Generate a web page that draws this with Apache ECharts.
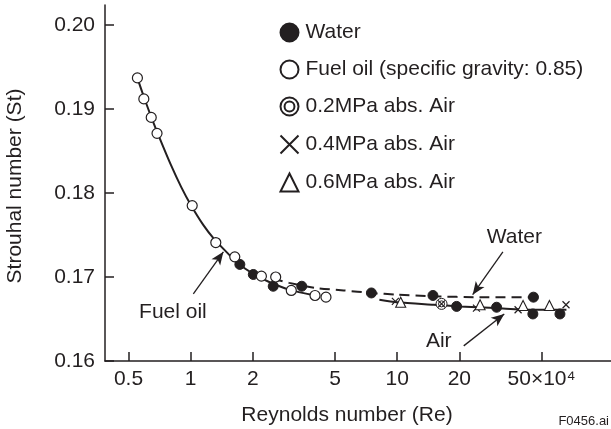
<!DOCTYPE html>
<html>
<head>
<meta charset="utf-8">
<script src="https://cdn.jsdelivr.net/npm/echarts@6/dist/echarts.min.js"></script>
<style>
html, body { margin: 0; padding: 0; background: #fff; }
#chart { width: 611px; height: 429px; }
</style>
</head>
<body>
<div id="chart"></div>
<script>
const ink = '#231f20'
const font = "'Liberation Sans', Arial, Helvetica, sans-serif"

// axis ticks
const xTicks = [0.5, 1, 2, 5, 10, 20, 50]
const yTicks = [0.16, 0.17, 0.18, 0.19, 0.20]

// measured points (Re in 10^4, St)
const waterX = [1.73, 2.01, 2.51, 3.45, 7.5, 14.9, 19.4, 30.3, 45.7, 45.4, 61.4]
const waterY = [0.1715, 0.1703, 0.1689, 0.1689, 0.1681, 0.1678, 0.1665, 0.1664, 0.1676, 0.1656, 0.1656]

const oilX = [0.552, 0.593, 0.644, 0.687, 1.017, 1.323, 1.635, 2.20, 2.58, 3.07, 4.0, 4.52]
const oilY = [0.1937, 0.1912, 0.1890, 0.1871, 0.1785, 0.1741, 0.1724, 0.1701, 0.1700, 0.1684, 0.1678, 0.1676]

const air02X = [16.4]
const air02Y = [0.1668]

const air04X = [9.8, 16.4, 24.2, 38.5, 65.7]
const air04Y = [0.1671, 0.1668, 0.1663, 0.1661, 0.1667]

const air06X = [10.4, 25.2, 40.7, 54.6]
const air06Y = [0.1670, 0.1667, 0.1666, 0.1666]

// fitted curves
const oilCurveX = [0.55, 0.6, 0.65, 0.7, 0.8, 0.9, 1.0, 1.15, 1.3, 1.5, 1.7, 2.0, 2.4, 3.0, 4.0]
const oilCurveY = [0.1938, 0.1911, 0.1888, 0.1868, 0.1834, 0.1807, 0.1786, 0.1762, 0.1745, 0.1729, 0.1716, 0.1704, 0.1694, 0.1685, 0.1678]

const waterCurveX = [2.5, 3.0, 4.0, 5.5, 7.5, 10, 15, 25, 48]
const waterCurveY = [0.1698, 0.1693, 0.1687, 0.1684, 0.1681, 0.1679, 0.1677, 0.1676, 0.1676]

const airCurveX = [8.2, 10, 15, 20, 30, 45, 66]
const airCurveY = [0.1673, 0.1670, 0.1667, 0.1665, 0.1663, 0.1661, 0.1661]

// callouts: label positions and arrows (tail -> head)
const noteNames = ['Water', 'Fuel oil', 'Air']
const noteX = [36.9, 0.82, 15.9]
const noteY = [0.1747, 0.1658, 0.1624]
const arrowFrom = [[32.5, 0.1730], [1.03, 0.1680], [21.0, 0.1618]]
const arrowTo = [[23.2, 0.1679], [1.44, 0.1730], [33.0, 0.1656]]

const legendNames = ['Water', 'Fuel oil (specific gravity: 0.85)', '0.2MPa abs. Air', '0.4MPa abs. Air', '0.6MPa abs. Air']

const ringPath = 'path://M10,0A10,10,0,1,1,-10,0A10,10,0,1,1,10,0ZM5.5,0A5.5,5.5,0,1,1,-5.5,0A5.5,5.5,0,1,1,5.5,0Z'
const crossPath = 'path://M0,0L10,10M10,0L0,10'

function zip(xs, ys) {
    return xs.map((x, i) => [x, ys[i]])
}

function curve(xs, ys, dashed) {
    return {
        type: 'line',
        data: zip(xs, ys),
        symbol: 'none',
        smooth: 0.25,
        silent: true,
        z: 1,
        lineStyle: { color: ink, width: 2, type: dashed ? [10, 6] : 'solid' }
    }
}

function points(name, xs, ys, symbol, size, fill, bw) {
    return {
        type: 'scatter',
        name: name,
        data: zip(xs, ys),
        symbol: symbol,
        symbolSize: size,
        z: 3,
        itemStyle: { color: fill, borderColor: ink, borderWidth: bw, opacity: 1 }
    }
}

const chart = echarts.init(document.getElementById('chart'), null, { renderer: 'canvas' })

const oilLine = curve(oilCurveX, oilCurveY, false)
oilLine.markLine = {
    silent: true,
    symbol: ['none', 'arrow'],
    symbolSize: [8, 13],
    label: { show: false },
    lineStyle: { color: ink, width: 1.3, type: 'solid' },
    data: arrowFrom.map((a, i) => [{ coord: a }, { coord: arrowTo[i] }])
}
oilLine.markPoint = {
    silent: true,
    symbol: 'circle',
    symbolSize: 1,
    itemStyle: { color: 'rgba(0,0,0,0)' },
    label: { show: true, position: 'inside', formatter: p => p.name, fontSize: 21, fontFamily: font, color: ink },
    data: noteNames.map((n, i) => ({ name: n, coord: [noteX[i], noteY[i]] }))
}

chart.setOption({
    animation: false,
    textStyle: { fontFamily: font, color: ink },
    grid: { left: 105, right: 0, top: 5, bottom: 68 },
    legend: {
        data: legendNames,
        orient: 'vertical',
        left: 273,
        top: 17,
        itemWidth: 18,
        itemHeight: 18,
        itemGap: 16,
        selectedMode: false,
        textStyle: { fontSize: 21, fontFamily: font, color: ink, padding: [0, 0, 0, 2] }
    },
    xAxis: {
        type: 'log',
        min: 0.3846,
        max: 108.5,
        axisLine: { lineStyle: { color: ink, width: 1.5 } },
        axisTick: { inside: true, length: 9, customValues: xTicks, lineStyle: { color: ink, width: 1.5 } },
        axisLabel: {
            customValues: xTicks,
            margin: 8,
            fontSize: 21,
            color: ink,
            fontFamily: font,
            formatter: v => (Math.abs(v - 50) < 1e-6 ? '50×10⁴' : String(+v.toPrecision(3)))
        },
        splitLine: { show: false },
        minorTick: { show: false }
    },
    yAxis: {
        type: 'value',
        min: 0.16,
        max: 0.20238,
        axisLine: { show: true, lineStyle: { color: ink, width: 1.5 } },
        axisTick: { show: true, inside: true, length: 9, customValues: yTicks, lineStyle: { color: ink, width: 1.5 } },
        axisLabel: {
            customValues: yTicks,
            margin: 10,
            fontSize: 21,
            color: ink,
            fontFamily: font,
            formatter: v => v.toFixed(2)
        },
        splitLine: { show: false }
    },
    graphic: [
        {
            type: 'text', x: 347, y: 415,
            style: { text: 'Reynolds number (Re)', font: '21px ' + font, fill: ink, textAlign: 'center', textVerticalAlign: 'middle' }
        },
        {
            type: 'text', x: 15, y: 186, rotation: Math.PI / 2,
            style: { text: 'Strouhal number (St)', font: '21px ' + font, fill: ink, textAlign: 'center', textVerticalAlign: 'middle' }
        },
        {
            type: 'text', x: 609, y: 421,
            style: { text: 'F0456.ai', font: '13px ' + font, fill: ink, textAlign: 'right', textVerticalAlign: 'middle' }
        }
    ],
    series: [
        oilLine,
        curve(waterCurveX, waterCurveY, true),
        curve(airCurveX, airCurveY, false),
        points(legendNames[0], waterX, waterY, 'circle', 10, ink, 1),
        points(legendNames[1], oilX, oilY, 'circle', 10, '#fff', 1.2),
        points(legendNames[2], air02X, air02Y, ringPath, 11, '#fff', 1),
        points(legendNames[3], air04X, air04Y, crossPath, 7, 'none', 1.2),
        points(legendNames[4], air06X, air06Y, 'triangle', 10, '#fff', 1.1)
    ]
})
</script>
</body>
</html>
